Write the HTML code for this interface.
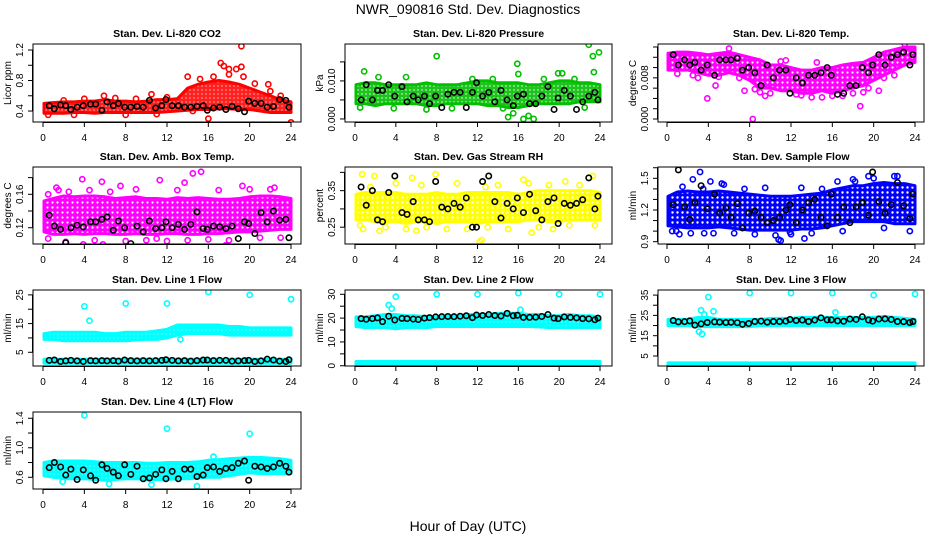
<!DOCTYPE html>
<html><head><meta charset="utf-8"><style>
html,body{margin:0;padding:0;background:#fff;}
svg{display:block;font-family:"Liberation Sans",sans-serif;}
</style></head><body>
<svg id="chart" width="936" height="540" viewBox="0 0 936 540">
<defs>
<pattern id="pat-red" width="4" height="4" patternUnits="userSpaceOnUse"><rect width="4" height="4" fill="#ff2020"/><circle cx="2" cy="2" r="0.6" fill="#fff"/></pattern>
<pattern id="pat-green" width="4" height="4" patternUnits="userSpaceOnUse"><rect width="4" height="4" fill="#1dc41d"/><circle cx="2" cy="2" r="0.7" fill="#fff"/></pattern>
<pattern id="pat-magenta" width="5" height="5" patternUnits="userSpaceOnUse"><rect width="5" height="5" fill="#ff00ff"/><circle cx="2.5" cy="2.5" r="1.1" fill="#fff"/></pattern>
<pattern id="pat-yellow" width="5" height="5" patternUnits="userSpaceOnUse"><rect width="5" height="5" fill="#ffff00"/><circle cx="2.5" cy="2.5" r="1.1" fill="#fff"/></pattern>
<pattern id="pat-blue" width="5" height="5" patternUnits="userSpaceOnUse"><rect width="5" height="5" fill="#0000ff"/><circle cx="2.5" cy="2.5" r="1.2" fill="#fff"/></pattern>
<pattern id="pat-cyan" width="4" height="4" patternUnits="userSpaceOnUse"><rect width="4" height="4" fill="#00ffff"/><circle cx="2" cy="2" r="0.5" fill="#fff"/></pattern>
</defs>
<text x="468" y="14" text-anchor="middle" font-size="14">NWR_090816  Std. Dev. Diagnostics</text>
<text x="468" y="531" text-anchor="middle" font-size="14">Hour of Day (UTC)</text>
</svg>
<script>
// ---- data ----
const bandHours = [0,1,2,3,4,5,6,7,8,9,10,11,12,13,14,15,16,17,18,19,20,21,22,23,24];
const blackHours = [0.6,1.1,1.7,2.2,2.7,3.3,3.9,4.6,5.1,5.7,6.2,6.8,7.3,7.9,8.5,9.1,9.7,10.3,10.9,11.5,11.9,12.5,13.1,13.7,14.3,14.9,15.5,15.9,16.5,17.1,17.7,18.3,18.9,19.5,19.9,20.5,21.1,21.7,22.3,22.9,23.5,23.8];
const xTicks = [0,4,8,12,16,20,24];

const p1Lo = [0.37,0.37,0.37,0.38,0.38,0.37,0.38,0.38,0.38,0.38,0.38,0.38,0.39,0.40,0.41,0.42,0.42,0.43,0.43,0.42,0.42,0.40,0.38,0.38,0.38];
const p1Hi = [0.50,0.51,0.52,0.52,0.53,0.53,0.55,0.53,0.53,0.52,0.53,0.55,0.55,0.56,0.70,0.75,0.78,0.80,0.78,0.75,0.70,0.65,0.60,0.55,0.52];
const p1OutH = [17.2,17.5,18,18.7,19.2,19.2,19.4,14,16,24,5.9,10.5,21.8,0.5,2,4,7,9,12,14.5,15.2,16.5,18,20.5,22,23,3,8,11];
const p1OutV = [1.03,0.99,0.95,0.95,0.98,1.25,0.85,0.85,0.3,0.25,0.6,0.62,0.75,0.35,0.54,0.56,0.57,0.56,0.58,0.4,0.82,0.85,0.88,0.76,0.66,0.6,0.35,0.35,0.36];
const p1Black = [0.47,0.43,0.48,0.47,0.42,0.45,0.47,0.49,0.49,0.41,0.52,0.47,0.5,0.45,0.45,0.46,0.45,0.54,0.44,0.47,0.55,0.47,0.47,0.45,0.45,0.46,0.47,0.41,0.44,0.45,0.42,0.46,0.43,0.39,0.53,0.5,0.5,0.45,0.46,0.55,0.54,0.45];

const p2Lo = [0.004,0.004,0.0035,0.004,0.004,0.004,0.004,0.0035,0.0035,0.004,0.004,0.004,0.004,0.0035,0.0035,0.003,0.003,0.0035,0.004,0.004,0.004,0.004,0.0045,0.0045,0.0045];
const p2Hi = [0.009,0.0095,0.0095,0.009,0.009,0.009,0.009,0.0095,0.009,0.009,0.009,0.0095,0.010,0.010,0.0095,0.0095,0.0095,0.009,0.009,0.0095,0.010,0.010,0.0095,0.0095,0.009];
const p2OutH = [0.9,8,15.9,16,22.9,23.3,23.9,23.4,19.9,20.3,17,15,16.5,17.5,15.5,2.3,5,0.5,3.8,7,9.5,11.5,13.5,14.5,18.5,21.5,22.5];
const p2OutV = [0.0125,0.0165,0.0145,0.0118,0.0195,0.0165,0.0175,0.0123,0.012,0.012,0.0008,0.0005,0,0,0.0015,0.011,0.011,0.003,0.0028,0.0025,0.0028,0.0105,0.0105,0.0028,0.0105,0.0105,0.003];
const p2Black = [0.005,0.009,0.005,0.0075,0.0075,0.009,0.006,0.0085,0.0045,0.006,0.005,0.006,0.004,0.006,0.003,0.0065,0.007,0.007,0.003,0.007,0.0095,0.006,0.007,0.0045,0.0075,0.005,0.0035,0.006,0.0065,0.004,0.004,0.006,0.0085,0.0025,0.0055,0.0075,0.006,0.0025,0.0045,0.006,0.007,0.005];

const p3Lo = [0.0095,0.0095,0.0095,0.009,0.0085,0.0085,0.009,0.0085,0.0075,0.006,0.006,0.0055,0.0055,0.005,0.005,0.0055,0.005,0.0055,0.006,0.0065,0.0075,0.0085,0.0095,0.0105,0.011];
const p3Hi = [0.0128,0.013,0.013,0.0128,0.0125,0.0128,0.013,0.0125,0.012,0.0115,0.0105,0.0105,0.010,0.0095,0.0095,0.010,0.010,0.0105,0.0108,0.011,0.012,0.013,0.0135,0.014,0.014];
const p3OutH = [3.9,8.3,18.7,4.7,7.5,11.5,20.5,9.5,1,2.5,3,5,6,7,8.5,9,10,11,12.5,13,14,15,16,17,18,19,19.5,21,22,23,14.5];
const p3OutV = [0.004,0,0.0025,0.0065,0.0055,0.0114,0.0055,0.0045,0.0088,0.0085,0.008,0.0082,0.0137,0.008,0.0058,0.0052,0.005,0.0112,0.0048,0.0046,0.0042,0.0042,0.0045,0.0045,0.005,0.0052,0.006,0.008,0.0085,0.0146,0.011];
const p3Black = [0.0125,0.0105,0.0115,0.0105,0.011,0.0095,0.0105,0.0085,0.0115,0.0115,0.0115,0.0118,0.0095,0.010,0.009,0.0065,0.0105,0.008,0.0095,0.0095,0.005,0.008,0.007,0.0085,0.0085,0.009,0.010,0.0085,0.0048,0.005,0.0065,0.0065,0.010,0.009,0.0105,0.0125,0.0105,0.012,0.0125,0.013,0.0105,0.0125];

const p4Lo = [0.115,0.112,0.112,0.113,0.112,0.113,0.113,0.112,0.112,0.113,0.112,0.112,0.113,0.113,0.112,0.112,0.113,0.113,0.114,0.115,0.115,0.116,0.117,0.118,0.118];
const p4Hi = [0.152,0.155,0.158,0.157,0.158,0.158,0.157,0.155,0.156,0.157,0.155,0.155,0.154,0.156,0.155,0.156,0.155,0.154,0.154,0.155,0.157,0.158,0.158,0.157,0.155];
const p4OutH = [3.8,5.7,11.3,14.5,15.3,13.7,2.2,3.9,5.8,17.7,1.3,7.5,19.3,22.4,0.5,0.5,1.5,2.5,4.5,5,6.5,8,9,10,12,13,14,16,17,18,20,21,22,23,11];
const p4OutV = [0.178,0.175,0.177,0.185,0.187,0.174,0.103,0.100,0.100,0.099,0.168,0.170,0.170,0.168,0.16,0.107,0.165,0.163,0.165,0.105,0.163,0.104,0.166,0.105,0.104,0.165,0.105,0.106,0.165,0.105,0.166,0.108,0.166,0.108,0.107];
const p4Black = [0.135,0.122,0.118,0.102,0.12,0.123,0.121,0.127,0.127,0.13,0.133,0.117,0.128,0.12,0.101,0.122,0.115,0.128,0.119,0.12,0.127,0.12,0.124,0.118,0.124,0.139,0.119,0.118,0.122,0.121,0.119,0.122,0.107,0.127,0.125,0.113,0.138,0.127,0.14,0.129,0.13,0.108];

const p5Lo = [0.27,0.27,0.265,0.265,0.265,0.26,0.265,0.265,0.26,0.265,0.265,0.265,0.26,0.265,0.265,0.265,0.265,0.27,0.27,0.265,0.265,0.27,0.27,0.27,0.27];
const p5Hi = [0.34,0.345,0.345,0.345,0.345,0.34,0.34,0.34,0.345,0.34,0.34,0.345,0.345,0.345,0.345,0.345,0.34,0.345,0.35,0.35,0.35,0.35,0.35,0.35,0.345];
const p5OutH = [0.7,7.9,1.9,12.2,12.4,23.3,5.6,16.5,0.8,6,2.4,17.3,19.4,20.6,0.5,1.5,3,4,5,6.5,7,9,10,11,13,14,15,17,18,19,21,22,23.5,12.8];
const p5OutV = [0.395,0.395,0.39,0.21,0.215,0.39,0.385,0.38,0.245,0.24,0.24,0.235,0.245,0.375,0.255,0.36,0.25,0.37,0.245,0.365,0.25,0.245,0.37,0.245,0.25,0.365,0.245,0.37,0.25,0.365,0.255,0.365,0.255,0.36];
const p5Black = [0.36,0.31,0.35,0.27,0.265,0.345,0.39,0.29,0.285,0.32,0.27,0.27,0.265,0.375,0.305,0.3,0.315,0.305,0.33,0.25,0.25,0.375,0.39,0.32,0.275,0.315,0.3,0.33,0.29,0.34,0.295,0.27,0.32,0.33,0.26,0.315,0.31,0.315,0.325,0.385,0.3,0.335];

const p6Lo = [1.05,1.04,1.03,1.03,1.03,1.04,1.03,1.02,1.01,1.01,1.01,1.01,1.01,1.02,1.02,1.03,1.05,1.07,1.09,1.09,1.09,1.09,1.07,1.07,1.07];
const p6Hi = [1.33,1.37,1.38,1.37,1.37,1.38,1.37,1.36,1.35,1.34,1.33,1.33,1.33,1.34,1.35,1.36,1.39,1.41,1.43,1.43,1.45,1.46,1.45,1.45,1.43];
const p6OutH = [3.2,2.5,4.2,0.9,10.8,11,13.3,19.5,22.3,18.2,1.2,3.6,5.3,11.9,0.5,1.5,2.3,3.5,4.5,5.5,6.5,7.5,8.5,9.5,10.5,12,13,14,15,16.5,17,18,21,23.5,22,20];
const p6OutV = [1.56,1.49,1.47,1.0,0.92,0.91,0.93,1.52,1.52,1.47,0.97,0.98,1.45,0.99,1.0,1.42,0.98,1.4,0.98,1.44,0.98,1.4,0.97,1.41,0.96,0.97,1.41,0.98,1.4,1.47,1.0,1.49,1.03,1.0,1.52,1.5];
const p6Black = [1.25,1.58,1.23,1.11,1.27,1.43,1.21,1.35,1.17,1.22,1.13,1.26,1.03,1.17,1.19,1.13,1.08,1.1,1.13,1.2,1.25,1.08,1.2,1.27,1.3,1.13,1.05,1.35,1.13,1.23,1.08,1.23,1.27,1.15,1.56,1.28,1.17,1.25,1.46,1.24,1.12,1.35];

const p7UpLo = [9.5,9.5,9,9,9,9,9,9,9,9.3,9.5,9.5,10,11,11.5,11.5,11.5,11.5,11,11,11,11,11,11,11];
const p7UpHi = [11.5,12,12,12,12,12,11.5,11.5,12,12,12,12.5,13,14.5,14.5,14.5,14.5,14.5,14,14,13.5,13.5,13.5,13.5,13.5];
const p7LowLo = [1.2,1.2,1.2,1.2,1.2,1.2,1.2,1.2,1.2,1.2,1.2,1.2,1.2,1.2,1.2,1.2,1.2,1.2,1.2,1.2,1.2,1.2,1.2,1.2,1.2];
const p7LowHi = [2.6,2.6,2.6,2.6,2.6,2.6,2.6,2.6,2.6,2.6,2.6,2.6,2.6,2.6,2.6,2.6,2.6,2.6,2.6,2.6,2.6,2.6,2.6,2.6,2.6];
const p7OutH = [4,4.5,8,12,16,20,24,13.3];
const p7OutV = [21,16,22,22,26,25,23.5,9.5];
const p7Black = [2.2,2.3,1.8,2.0,2.2,2.0,1.8,2.1,2.0,2.1,2.0,2.1,1.9,2.3,2.1,2.0,2.1,2.0,2.1,2.2,2.4,2.2,2.0,2.1,1.9,2.1,2.3,2.3,2.1,2.2,2.2,1.9,2.0,2.1,2.2,1.8,2.0,2.6,2.3,1.9,1.8,2.4];

const p8UpLo = [16.5,16,16,16,15.5,16,16,16,16.5,16.5,16.5,16.5,16.5,16.5,16.5,16.5,16.5,16.5,16.3,16,16,16,16,16,16];
const p8UpHi = [20.5,20.5,21,21.5,21.5,21,21,20.5,20.5,21,21,21.5,21.5,21.5,22,22,22,21.5,21.5,21,21,21.5,21,21,20.5];
const p8LowLo = [0.5,0.5,0.5,0.5,0.5,0.5,0.5,0.5,0.5,0.5,0.5,0.5,0.5,0.5,0.5,0.5,0.5,0.5,0.5,0.5,0.5,0.5,0.5,0.5,0.5];
const p8LowHi = [1.8,1.8,1.8,1.8,1.8,1.8,1.8,1.8,1.8,1.8,1.8,1.8,1.8,1.8,1.8,1.8,1.8,1.8,1.8,1.8,1.8,1.8,1.8,1.8,1.8];
const p8OutH = [3.3,3.6,4,8,12,16,20,24,16.2];
const p8OutV = [25.5,24,29,30,30,30.5,30,30,23.5];
const p8Black = [19.8,19.5,19.8,20.1,18.5,20.8,19.2,19.9,19.8,19.6,19.4,20.0,20.2,20.5,20.6,20.7,20.6,20.8,21.0,20.2,21.3,21.1,21.5,21.1,20.9,22.0,21.0,21.2,20.3,20.3,20.4,20.7,21.5,20.0,19.8,20.5,20.3,20.1,19.8,19.7,19.3,20.0];

const p9UpLo = [20,20,20,19.5,19.5,19.5,19.5,19.5,19.5,20,20,20,20,20,20,20,20,20,20,20,20,20,20,20,20];
const p9UpHi = [23,23,23,24,24,23,23,23,23,23,23.5,23.5,23.5,24,24,24,24,24,24,24,24,24.5,24,23.5,23];
const p9LowLo = [0.4,0.4,0.4,0.4,0.4,0.4,0.4,0.4,0.4,0.4,0.4,0.4,0.4,0.4,0.4,0.4,0.4,0.4,0.4,0.4,0.4,0.4,0.4,0.4,0.4];
const p9LowHi = [1.6,1.6,1.6,1.6,1.6,1.6,1.6,1.6,1.6,1.6,1.6,1.6,1.6,1.6,1.6,1.6,1.6,1.6,1.6,1.6,1.6,1.6,1.6,1.6,1.6];
const p9OutH = [3.3,3.6,4,4.5,8,12,16,20,24,16.3,3.1,3.4];
const p9OutV = [27.5,25.5,34,27,36,36,36,35,35.5,26.5,17,15.8];
const p9Black = [22.5,21.8,21.9,22.3,20.2,20.8,21.5,21.8,21.7,21.5,21.6,21.4,20.6,21.0,22.0,22.2,21.7,22.0,22.0,22.2,23.0,22.5,22.7,22.0,22.7,23.8,22.8,22.8,22.3,22.1,23.2,23.0,24.3,22.7,22.2,23.2,23.3,23.0,22.0,21.9,21.5,22.0];

const p10Lo = [0.62,0.6,0.58,0.58,0.58,0.57,0.56,0.57,0.58,0.58,0.57,0.57,0.57,0.58,0.58,0.59,0.6,0.6,0.62,0.64,0.66,0.65,0.65,0.65,0.65];
const p10Hi = [0.8,0.82,0.82,0.82,0.82,0.81,0.8,0.8,0.8,0.8,0.79,0.79,0.8,0.8,0.8,0.81,0.83,0.84,0.85,0.86,0.87,0.87,0.86,0.85,0.83];
const p10OutH = [4,12,20,16.5,14.9,6.4,1.9,10.5];
const p10OutV = [1.44,1.26,1.19,0.88,0.48,0.51,0.54,0.5];
const p10Black = [0.73,0.8,0.74,0.63,0.71,0.57,0.7,0.62,0.56,0.77,0.72,0.67,0.62,0.77,0.64,0.75,0.58,0.59,0.64,0.7,0.58,0.68,0.58,0.71,0.71,0.61,0.63,0.73,0.74,0.68,0.72,0.73,0.79,0.82,0.56,0.75,0.74,0.72,0.74,0.79,0.75,0.67];

// ---- layout ----
const NS = "http://www.w3.org/2000/svg";
const svg = document.getElementById('chart');
const cols = [{l:33,r:301,x0:43,x24:291},{l:345,r:612,x0:355,x24:600},{l:658,r:924,x0:667,x24:915}];
const rows = [{t:44,b:122},{t:167,b:244},{t:290,b:366},{t:412,b:489}];

const panels = [
 {name:'co2',title:'Stan. Dev. Li-820 CO2',yt:'Licor ppm',c:0,r:0,ymin:0.256,ymax:1.279,ticks:[0.4,0.6,0.8,1.0,1.2],labels:['0.4','','0.8','','1.2'],color:'#ff0000',pat:'pat-red',bands:[[p1Lo,p1Hi]],oh:p1OutH,ov:p1OutV,blk:p1Black},
 {name:'pressure',title:'Stan. Dev. Li-820 Pressure',yt:'kPa',c:1,r:0,ymin:-0.0008,ymax:0.0197,ticks:[0,0.005,0.010,0.015],labels:['0.000','','0.010',''],color:'#00c000',pat:'pat-green',bands:[[p2Lo,p2Hi]],oh:p2OutH,ov:p2OutV,blk:p2Black},
 {name:'li820-temp',title:'Stan. Dev. Li-820 Temp.',yt:'degrees C',c:2,r:0,ymin:-0.00058,ymax:0.01458,ticks:[0,0.002,0.004,0.006,0.008,0.010,0.012,0.014],labels:['0.000','','','','0.008','','',''],color:'#ff00ff',pat:'pat-magenta',bands:[[p3Lo,p3Hi]],oh:p3OutH,ov:p3OutV,blk:p3Black},
 {name:'amb-box-temp',title:'Stan. Dev. Amb. Box Temp.',yt:'degrees C',c:0,r:1,ymin:0.1005,ymax:0.1927,ticks:[0.12,0.14,0.16,0.18],labels:['0.12','','0.16',''],color:'#ff00ff',pat:'pat-magenta',bands:[[p4Lo,p4Hi]],oh:p4OutH,ov:p4OutV,blk:p4Black},
 {name:'gas-stream-rh',title:'Stan. Dev. Gas Stream RH',yt:'percent',c:1,r:1,ymin:0.204,ymax:0.4147,ticks:[0.25,0.30,0.35,0.40],labels:['0.25','','0.35',''],color:'#ffff00',pat:'pat-yellow',bands:[[p5Lo,p5Hi]],oh:p5OutH,ov:p5OutV,blk:p5Black},
 {name:'sample-flow',title:'Stan. Dev. Sample Flow',yt:'ml/min',c:2,r:1,ymin:0.878,ymax:1.607,ticks:[0.9,1.0,1.1,1.2,1.3,1.4,1.5,1.6],labels:['0.9','','','1.2','','','1.5',''],color:'#0000ff',pat:'pat-blue',bands:[[p6Lo,p6Hi]],oh:p6OutH,ov:p6OutV,blk:p6Black},
 {name:'line1-flow',title:'Stan. Dev. Line 1 Flow',yt:'ml/min',c:0,r:2,ymin:0.22,ymax:26.7,ticks:[5,10,15,20,25],labels:['5','','15','','25'],color:'#00ffff',pat:'pat-cyan',bands:[[p7UpLo,p7UpHi],[p7LowLo,p7LowHi]],oh:p7OutH,ov:p7OutV,blk:p7Black},
 {name:'line2-flow',title:'Stan. Dev. Line 2 Flow',yt:'ml/min',c:1,r:2,ymin:-0.1,ymax:31.8,ticks:[0,5,10,15,20,25,30],labels:['0','','10','','20','','30'],color:'#00ffff',pat:'pat-cyan',bands:[[p8UpLo,p8UpHi],[p8LowLo,p8LowHi]],oh:p8OutH,ov:p8OutV,blk:p8Black},
 {name:'line3-flow',title:'Stan. Dev. Line 3 Flow',yt:'ml/min',c:2,r:2,ymin:0.08,ymax:37.5,ticks:[5,10,15,20,25,30,35],labels:['5','','15','','25','','35'],color:'#00ffff',pat:'pat-cyan',bands:[[p9UpLo,p9UpHi],[p9LowLo,p9LowHi]],oh:p9OutH,ov:p9OutV,blk:p9Black},
 {name:'line4-flow',title:'Stan. Dev. Line 4 (LT) Flow',yt:'ml/min',c:0,r:3,ymin:0.441,ymax:1.485,ticks:[0.6,0.8,1.0,1.2,1.4],labels:['0.6','','1.0','','1.4'],color:'#00ffff',pat:'pat-cyan',bands:[[p10Lo,p10Hi]],oh:p10OutH,ov:p10OutV,blk:p10Black}
];

function mk(tag, attrs, parent){
  const e = document.createElementNS(NS, tag);
  for (const k in attrs) e.setAttribute(k, attrs[k]);
  parent.appendChild(e);
  return e;
}

panels.forEach(p => {
  const C = cols[p.c], R = rows[p.r];
  const xs = h => C.x0 + (C.x24 - C.x0) * h / 24;
  const ys = v => R.b - (R.b - R.t) * (v - p.ymin) / (p.ymax - p.ymin);
  const g = mk('g', {}, svg);
  
  
  const clipId = 'clip-' + p.name;
  const cp = mk('clipPath', {id: clipId}, g);
  mk('rect', {x: C.l, y: R.t, width: C.r - C.l, height: R.b - R.t}, cp);
  const plot = mk('g', {'clip-path': 'url(#' + clipId + ')'}, g);
  
  

  p.bands.forEach(b => {
    const lo = b[0], hi = b[1];
    let d = '';
    bandHours.forEach((h, i) => { d += (i ? 'L' : 'M') + xs(Math.max(h, 0.1)).toFixed(1) + ',' + ys(hi[i]).toFixed(1); });
    for (let i = bandHours.length - 1; i >= 0; i--) d += 'L' + xs(Math.max(bandHours[i], 0.1)).toFixed(1) + ',' + ys(lo[i]).toFixed(1);
    const path = mk('path', {d: d + 'Z', fill: 'url(#' + p.pat + ')', stroke: p.color, 'stroke-width': 3, 'stroke-linejoin': 'round'}, plot);
    
    
  });
  p.oh.forEach((h, i) => {
    const c = mk('circle', {cx: xs(h), cy: ys(p.ov[i]), r: 2.6, fill: 'none', stroke: p.color, 'stroke-width': 1.6}, plot);
    
    
  });
  p.blk.forEach((v, i) => {
    if (i >= blackHours.length) return;
    const c = mk('circle', {cx: xs(blackHours[i]), cy: ys(v), r: 2.7, fill: 'none', stroke: '#000', 'stroke-width': 1.6}, plot);
    
    
  });

  const box = mk('rect', {x: C.l, y: R.t, width: C.r - C.l, height: R.b - R.t, fill: 'none', stroke: '#000', 'stroke-width': 1}, g);
  
  

  const xa = mk('g', {}, g);
  
  
  mk('line', {x1: xs(0), x2: xs(24), y1: R.b + 0.5, y2: R.b + 0.5, stroke: '#000'}, xa);
  xTicks.forEach(t => {
    mk('line', {x1: xs(t), x2: xs(t), y1: R.b, y2: R.b + 5, stroke: '#000'}, xa);
    const tx = mk('text', {x: xs(t), y: R.b + 19, 'text-anchor': 'middle', 'font-size': 10}, xa);
    tx.textContent = t;
    
    
  });
  const ya = mk('g', {}, g);
  
  
  const tv = p.ticks;
  mk('line', {x1: C.l - 0.5, x2: C.l - 0.5, y1: ys(tv[0]), y2: ys(tv[tv.length - 1]), stroke: '#000'}, ya);
  tv.forEach((t, i) => {
    mk('line', {x1: C.l - 5, x2: C.l, y1: ys(t), y2: ys(t), stroke: '#000'}, ya);
    if (p.labels[i]) {
      const lx = C.l - 10, ly = ys(t);
      const tx = mk('text', {x: lx, y: ly, 'text-anchor': 'middle', 'font-size': 10, transform: 'rotate(-90 ' + lx + ' ' + ly + ')'}, ya);
      tx.textContent = p.labels[i];
      
      
    }
  });
  const yx = C.l - 22, yy = (R.t + R.b) / 2;
  const yt = mk('text', {x: yx, y: yy, 'text-anchor': 'middle', 'font-size': 10, transform: 'rotate(-90 ' + yx + ' ' + yy + ')'}, g);
  yt.textContent = p.yt;
  
  
  const tt = mk('text', {x: (C.l + C.r) / 2, y: R.t - 7, 'text-anchor': 'middle', 'font-size': 10.5, 'font-weight': 'bold'}, g);
  tt.textContent = p.title;
  
  
});
</script>
</body></html>
